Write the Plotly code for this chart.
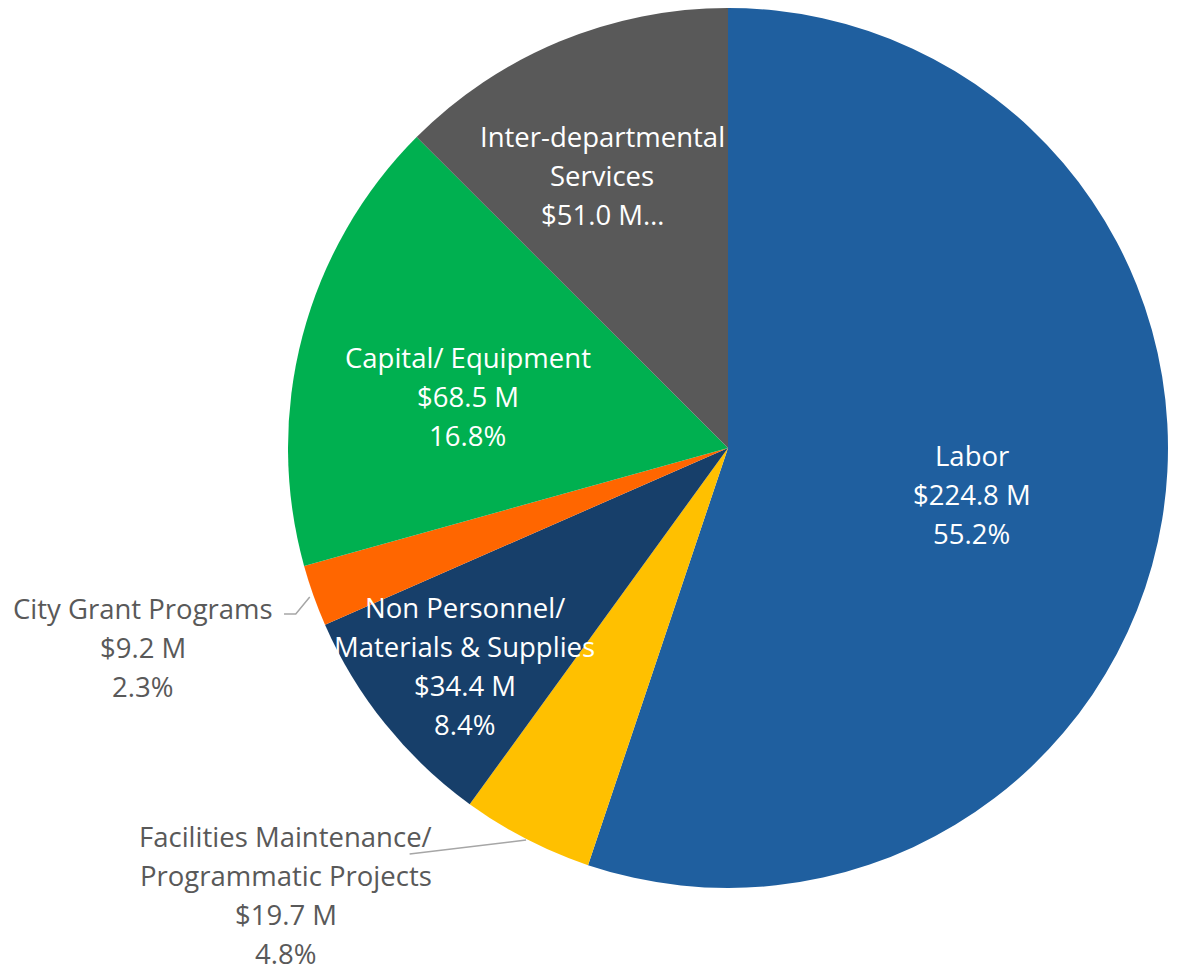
import math
import plotly.graph_objects as go

# ---- data ----
categories = ["Labor", "Facilities Maintenance/ Programmatic Projects", "Non Personnel/ Materials & Supplies",
              "City Grant Programs", "Capital/ Equipment", "Inter-departmental Services"]
values_m = [224.8, 19.7, 34.4, 9.2, 68.5, 51.0]
label_lines = [
    ["Labor", "$224.8 M", "55.2%"],
    ["Facilities Maintenance/", "Programmatic Projects", "$19.7 M", "4.8%"],
    ["Non Personnel/", "Materials & Supplies", "$34.4 M", "8.4%"],
    ["City Grant Programs", "$9.2 M", "2.3%"],
    ["Capital/ Equipment", "$68.5 M", "16.8%"],
    ["Inter-departmental", "Services", "$51.0 M\u2026"],
]

# ---- style ----
colors = ["#1F5F9F", "#FFC000", "#173F6A", "#FF6600", "#00B050", "#595959"]
label_colors = ["white", "#595959", "white", "#595959", "white", "white"]
# label block centres in screen pixels, expressed as polar offsets from the pie centre
label_angle = [100.7, 224.65, 230.3, 251.2, 281.1, 335.2]   # deg clockwise from top
label_dist = [248, 629, 342, 618, 265, 300]                 # px from centre
OFF = 8                      # page body margin
W, H = 1178 - OFF, 972 - OFF
CX, CY = 728 - OFF, 448 - OFF
R = 440
LINE_H = 39
FONT = "Open Sans"
FSIZE = 27.5

def polar_px(angle_deg, dist):
    a = math.radians(angle_deg)
    return CX + dist * math.sin(a), CY - dist * math.cos(a)

def to_paper(px, py):
    return px / W, 1 - py / H

fig = go.Figure(go.Pie(
    labels=categories,
    values=values_m,
    sort=False,
    direction="clockwise",
    rotation=0,
    marker=dict(colors=colors, line=dict(width=0)),
    textinfo="none",
    hoverinfo="label+value+percent",
    showlegend=False,
    domain=dict(x=[(CX - R) / W, (CX + R) / W], y=[1 - (CY + R) / H, 1 - (CY - R) / H]),
))

annotations = []
for lines, ang, d, col in zip(label_lines, label_angle, label_dist, label_colors):
    px, py = polar_px(ang, d)
    n = len(lines)
    for i, t in enumerate(lines):
        ly = py + (i - (n - 1) / 2) * LINE_H
        x, y = to_paper(px, ly)
        annotations.append(dict(x=x, y=y, xref="paper", yref="paper", text=t, showarrow=False,
                                xanchor="center", yanchor="middle",
                                font=dict(family=FONT, size=FSIZE, color=col)))

# leader lines for outside labels (slice midpoints computed from data)
total = sum(values_m)
cum = 0
mids = []
for v in values_m:
    mids.append((cum + v / 2) / total * 360)
    cum += v

shapes = []
def path_from(points):
    pts = [to_paper(*p) for p in points]
    return "M " + " L ".join(f"{x},{y}" for x, y in pts)

# City Grant Programs
cg = [polar_px(mids[3], R + 4), polar_px(mids[3] - 1.4, R + 23), polar_px(mids[3] - 0.9, R + 34)]
# Facilities
fa = [polar_px(mids[1], R + 1), polar_px(218.1, 516)]
for pts in (cg, fa):
    shapes.append(dict(type="path", xref="paper", yref="paper", path=path_from(pts),
                       line=dict(color="#A6A6A6", width=1.5)))

fig.update_layout(
    width=W, height=H,
    margin=dict(l=0, r=0, t=0, b=0),
    paper_bgcolor="white",
    plot_bgcolor="white",
    annotations=annotations,
    shapes=shapes,
)

fig.write_html("out.html")
